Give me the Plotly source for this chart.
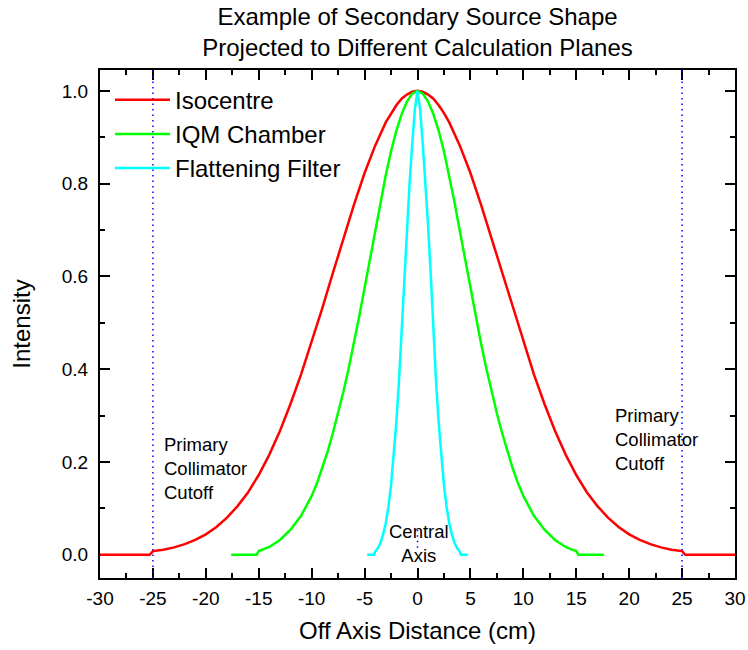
import plotly.graph_objects as go

# ---- data ----
iso_x = [-30, -25.3, -25, -24, -23, -22, -21, -20, -19, -18, -17, -16, -15, -14, -13, -12, -11, -10,
         -9, -8, -7, -6, -5, -4, -3, -2.5, -2, -1.5, -1, -0.5, 0, 0.5, 1, 1.5, 2, 2.5, 3, 4, 5, 6, 7,
         8, 9, 10, 11, 12, 13, 14, 15, 16, 17, 18, 19, 20, 21, 22, 23, 24, 25, 25.3, 30]
iso_y = [0.0, 0.0, 0.008, 0.011, 0.016, 0.023, 0.032, 0.044, 0.060, 0.080, 0.105, 0.135, 0.172, 0.216,
         0.267, 0.325, 0.389, 0.458, 0.531, 0.607, 0.682, 0.755, 0.823, 0.882, 0.932, 0.952, 0.969,
         0.983, 0.992, 0.998, 1.000, 0.998, 0.992, 0.983, 0.969, 0.952, 0.932, 0.882, 0.823, 0.755,
         0.682, 0.607, 0.531, 0.458, 0.389, 0.325, 0.267, 0.216, 0.172, 0.135, 0.105, 0.080, 0.060,
         0.044, 0.032, 0.023, 0.016, 0.011, 0.008, 0.0, 0.0]

iqm_x = [-17.6, -15.2, -15, -14.6, -14, -13, -12, -11, -10, -9.5, -9, -8.5, -8, -7.5, -7, -6.5, -6,
         -5.5, -5, -4.5, -4, -3.5, -3, -2.5, -2, -1.5, -1, -0.5, 0, 0.5, 1, 1.5, 2, 2.5, 3, 3.5, 4,
         4.5, 5, 5.5, 6, 6.5, 7, 7.5, 8, 8.5, 9, 9.5, 10, 11, 12, 13, 14, 14.6, 15, 15.2, 17.6]
iqm_y = [0.0, 0.0, 0.008, 0.011, 0.017, 0.032, 0.054, 0.084, 0.127, 0.154, 0.186, 0.222, 0.262, 0.305,
         0.352, 0.402, 0.456, 0.515, 0.575, 0.637, 0.698, 0.760, 0.818, 0.870, 0.914, 0.950, 0.977,
         0.994, 1.000, 0.994, 0.977, 0.950, 0.914, 0.870, 0.818, 0.760, 0.698, 0.637, 0.575, 0.515,
         0.456, 0.402, 0.352, 0.305, 0.262, 0.222, 0.186, 0.154, 0.127, 0.084, 0.054, 0.032, 0.017,
         0.011, 0.008, 0.0, 0.0]

ff_x = [-4.75, -4.1, -4.0, -3.75, -3.5, -3.25, -3.0, -2.75, -2.5, -2.25, -2.0, -1.75, -1.5, -1.25,
        -1.0, -0.75, -0.5, -0.25, 0, 0.25, 0.5, 0.75, 1.0, 1.25, 1.5, 1.75, 2.0, 2.25, 2.5, 2.75, 3.0,
        3.25, 3.5, 3.75, 4.0, 4.1, 4.75]
ff_y = [0.0, 0.0, 0.007, 0.014, 0.026, 0.044, 0.068, 0.103, 0.150, 0.210, 0.285, 0.375, 0.480, 0.605,
        0.710, 0.800, 0.885, 0.960, 1.000, 0.960, 0.885, 0.800, 0.710, 0.605, 0.480, 0.375, 0.285,
        0.210, 0.150, 0.103, 0.068, 0.044, 0.026, 0.014, 0.007, 0.0, 0.0]

series_names = ["Isocentre", "IQM Chamber", "Flattening Filter"]
series_colors = ["#ff0000", "#00ff00", "#00ffff"]

cutoff_x = [-25, 25]
central_x = [0, 0]
central_y = [0.015, 0.058]

x_ticks = [-30, -25, -20, -15, -10, -5, 0, 5, 10, 15, 20, 25, 30]
y_ticks = [0.0, 0.2, 0.4, 0.6, 0.8, 1.0]

FONT = "Liberation Sans, Arial, sans-serif"
DOT = dict(color="#0000ff", width=1.5, dash="1.5px,4px")

fig = go.Figure()

# dotted reference lines (collimator cutoff and central axis)
for cx in cutoff_x:
    fig.add_trace(go.Scatter(x=[cx, cx], y=[-0.05, 1.045], mode="lines", showlegend=False,
                             hoverinfo="skip", line=DOT))
fig.add_trace(go.Scatter(x=central_x, y=central_y, mode="lines", showlegend=False, hoverinfo="skip",
                         line=DOT))

for xs, ys, name, col in zip([iso_x, iqm_x, ff_x], [iso_y, iqm_y, ff_y], series_names, series_colors):
    fig.add_trace(go.Scatter(x=xs, y=ys, mode="lines", name=name,
                             line=dict(color=col, width=2.5)))

axis_common = dict(showline=True, linecolor="black", linewidth=2, mirror="allticks",
                   ticks="inside", ticklen=10, tickwidth=2, tickcolor="black",
                   showgrid=False, zeroline=False, automargin=False, layer="below traces",
                   tickfont=dict(family=FONT, size=19, color="black"))

fig.update_xaxes(range=[-30, 30], tickvals=x_ticks, ticktext=[str(v) for v in x_ticks],
                 ticklabelstandoff=2,
                 minor=dict(dtick=2.5, ticks="inside", ticklen=5, tickwidth=2, tickcolor="black",
                            showgrid=False),
                 title=dict(text="Off Axis Distance (cm)", font=dict(family=FONT, size=24, color="black"),
                            standoff=14),
                 **axis_common)
fig.update_yaxes(range=[-0.05, 1.045], tickvals=y_ticks, ticktext=[f"{v:.1f}" for v in y_ticks],
                 ticklabelstandoff=6,
                 minor=dict(dtick=0.1, tick0=0, ticks="inside", ticklen=5, tickwidth=2,
                            tickcolor="black", showgrid=False),
                 title=dict(text="Intensity", font=dict(family=FONT, size=24, color="black"),
                            standoff=24),
                 **axis_common)

ann_font = dict(family=FONT, size=18.5, color="black")
fig.add_annotation(x=-24.15, y=0.187, xref="x", yref="y", text="Primary<br>Collimator<br>Cutoff",
                   showarrow=False, xanchor="left", yanchor="middle", align="left", font=ann_font)
fig.add_annotation(x=18.45, y=0.249, xref="x", yref="y", text="Primary<br>Collimator<br>Cutoff",
                   showarrow=False, xanchor="left", yanchor="middle", align="left", font=ann_font)
fig.add_annotation(x=0.1, y=0.025, xref="x", yref="y", text="Central<br>Axis",
                   showarrow=False, xanchor="center", yanchor="middle", align="center", font=ann_font)

fig.update_layout(
    width=748, height=650,
    margin=dict(l=100, r=13, t=70, b=72, autoexpand=False),
    paper_bgcolor="white", plot_bgcolor="white",
    title=dict(text="Example of Secondary Source Shape<br>Projected to Different Calculation Planes",
               font=dict(family=FONT, size=24, color="black"),
               x=0.5, xref="paper", xanchor="center", y=0.962, yref="container", yanchor="top"),
    legend=dict(x=0.0157, y=0.985, xref="paper", yref="paper", xanchor="left", yanchor="top",
                bgcolor="rgba(0,0,0,0)", borderwidth=0, tracegroupgap=0, itemwidth=55,
                font=dict(family=FONT, size=24, color="black")),
    showlegend=True,
)

fig.write_html("out.html")
